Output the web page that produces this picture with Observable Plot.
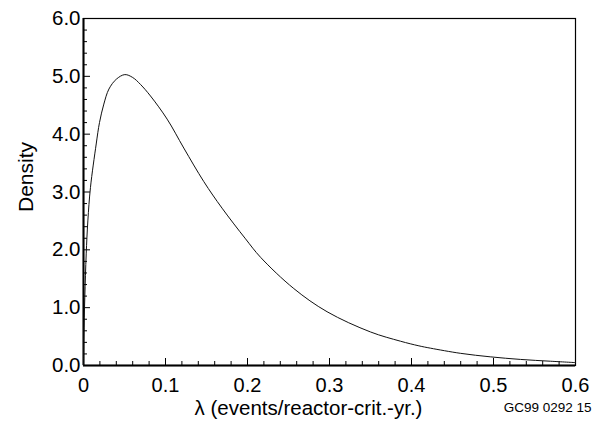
<!DOCTYPE html>
<html>
<head>
<meta charset="utf-8">
<script src="https://cdn.jsdelivr.net/npm/d3@7"></script>
<script src="https://cdn.jsdelivr.net/npm/@observablehq/plot@0.6"></script>
<style>
  html, body { margin: 0; padding: 0; background: #fff; }
  svg { font-family: "Liberation Sans", Arial, sans-serif; }
</style>
</head>
<body>
<div id="chart"></div>
<script>
// Density curve values
const lambda = [0, 0.0004, 0.0016, 0.0033, 0.0053, 0.0085, 0.0155, 0.0195, 0.0248, 0.031, 0.04, 0.0504, 0.06, 0.0695, 0.0817, 0.102, 0.1223, 0.1467, 0.169, 0.1976, 0.216, 0.2565, 0.297, 0.35, 0.3866, 0.409, 0.423, 0.46, 0.496, 0.533, 0.5695, 0.6];
const density = [0, 0.49, 1.18, 1.93, 2.50, 3.08, 3.83, 4.20, 4.52, 4.78, 4.95, 5.03, 4.98, 4.86, 4.66, 4.26, 3.76, 3.18, 2.72, 2.19, 1.87, 1.33, 0.93, 0.58, 0.42, 0.34, 0.30, 0.21, 0.15, 0.105, 0.074, 0.05];

// Tick labels
const xTicks = [0, 0.1, 0.2, 0.3, 0.4, 0.5, 0.6];
const xTickLabels = ["0", "0.1", "0.2", "0.3", "0.4", "0.5", "0.6"];
const yTicks = [0, 1, 2, 3, 4, 5, 6];
const yTickLabels = ["0.0", "1.0", "2.0", "3.0", "4.0", "5.0", "6.0"];
const xMinor = d3.range(0, 31).map(i => i * 0.02).filter(v => Math.abs(v * 10 - Math.round(v * 10)) > 1e-6);
const yMinor = d3.range(0, 31).map(i => i * 0.2).filter(v => Math.abs(v - Math.round(v)) > 1e-6);

const xLabel = "λ (events/reactor-crit.-yr.)";
const yLabel = "Density";
const note = "GC99 0292 15";

const data = lambda.map((x, i) => ({x, y: density[i]}));

const W = 600, H = 427;
const mL = 83, mR = 25, mT = 18, mB = 62;
const pxX = 0.6 / (W - mL - mR);   // data units per pixel
const pxY = 6 / (H - mT - mB);

const chart = Plot.plot({
  width: W,
  height: H,
  marginLeft: mL,
  marginRight: mR,
  marginTop: mT,
  marginBottom: mB,
  style: {fontFamily: "'Liberation Sans', Arial, sans-serif", background: "#fff"},
  x: {domain: [0, 0.6], axis: null},
  y: {domain: [0, 6], axis: null},
  marks: [
    // minor ticks (inward)
    Plot.ruleX(xMinor, {x: d => d, y1: 0, y2: 4 * pxY, stroke: "#000", strokeWidth: 1}),
    Plot.ruleY(yMinor, {y: d => d, x1: 0, x2: 4 * pxX, stroke: "#000", strokeWidth: 1}),
    // major ticks (inward)
    Plot.ruleX(xTicks, {x: d => d, y1: 0, y2: 7 * pxY, stroke: "#000", strokeWidth: 1}),
    Plot.ruleY(yTicks, {y: d => d, x1: 0, x2: 7 * pxX, stroke: "#000", strokeWidth: 1}),
    // frame
    Plot.frame({stroke: "#000", strokeWidth: 1.2}),
    Plot.ruleX([0], {stroke: "#000", strokeWidth: 2}),
    Plot.ruleY([0], {stroke: "#000", strokeWidth: 2}),
    // curve
    Plot.line(data, {x: "x", y: "y", curve: "catmull-rom", stroke: "#111", strokeWidth: 1}),
    // tick labels
    Plot.text(xTicks, {x: d => d, y: 0, text: (d, i) => xTickLabels[i], dy: 20, fontSize: 20, fill: "#000"}),
    Plot.text(yTicks, {y: d => d, x: 0, text: (d, i) => yTickLabels[i], dx: -3, textAnchor: "end", fontSize: 20.5, fill: "#000"}),
    // axis titles
    Plot.text([xLabel], {frameAnchor: "bottom", text: d => d, dx: -21, dy: 49, fontSize: 20.5, fill: "#000"}),
    Plot.text([yLabel], {frameAnchor: "left", text: d => d, rotate: -90, dx: -57, dy: 20, fontSize: 21, fill: "#000"}),
    Plot.text([note], {frameAnchor: "bottom-right", text: d => d, textAnchor: "end", dx: 16, dy: 46, fontSize: 13.5, fill: "#000"})
  ]
});
document.getElementById("chart").appendChild(chart);
</script>
</body>
</html>
